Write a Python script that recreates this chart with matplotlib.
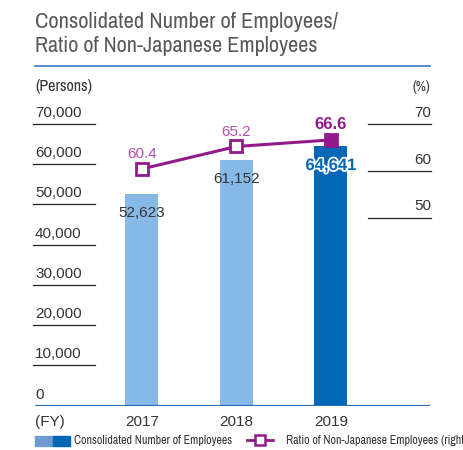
import matplotlib.pyplot as plt
import matplotlib.transforms as mtransforms
import matplotlib.patheffects as pe
from matplotlib import font_manager as fm
from matplotlib.lines import Line2D
from matplotlib.patches import Rectangle

# Data
years = ["2017", "2018", "2019"]
employees = [52623, 61152, 64641]
ratio = [60.4, 65.2, 66.6]
left_ticks = [10000, 20000, 30000, 40000, 50000, 60000, 70000]
right_ticks = [50, 60, 70]

light_blue = "#86b9e5"
dark_blue = "#0068b6"
purple = "#931a8b"
label_purple = "#b54db0"
grey_text = "#333333"
title_grey = "#58595b"

# look for a narrow / condensed sans font, otherwise use Roboto
narrow_file = None
for f in sorted(fm.fontManager.ttflist, key=lambda f: f.name):
    cond = ("Narrow" in f.name or "Condensed" in f.name
            or f.stretch in ("condensed", "semi-condensed", "extra-condensed"))
    if cond and f.style == "normal" and f.weight in (400, "normal", "regular"):
        narrow_file = f.fname
        break


def narrow(size):
    if narrow_file:
        return fm.FontProperties(fname=narrow_file, size=size)
    return fm.FontProperties(family="Roboto", size=size)


W, H = 464, 450
fig = plt.figure(figsize=(W / 100, H / 100), dpi=100)
renderer = fig.canvas.get_renderer()


def px(x, y):
    # pixel coords (from top-left) -> figure fraction
    return x / W, 1 - y / H


def fit_text(x, y, s, width, size, **kw):
    # place text and shrink/grow it to the width seen in the reference
    t = fig.text(*px(x, y), s, fontproperties=narrow(size), **kw)
    w = t.get_window_extent(renderer).width
    t.set_fontsize(size * width / w)
    return t


# axes area in pixels
x0, x1 = 35, 430
y_base, y_top = 405.7, 100
ax = fig.add_axes([x0 / W, 1 - y_base / H, (x1 - x0) / W, (y_base - y_top) / H])
ax2 = ax.twinx()

ax.set_ylim(0, (y_base - y_top) / 40.24 * 10000)
ax2.set_ylim(70 - (y_base - 124) / 4.685, 70 + (124 - y_top) / 4.685)
ax.set_xlim(-1.128, 3.048)

for a in (ax, ax2):
    a.set_xticks([])
    a.set_yticks([])
    for s in a.spines.values():
        s.set_visible(False)
    a.patch.set_alpha(0)

xs = list(range(len(years)))
colors = [light_blue, light_blue, dark_blue]
ax.bar(xs, employees, width=0.35, color=colors, zorder=2)

# baseline
ax.axhline(0, color="#2a6fb6", lw=1.6, zorder=3)

# left tick lines and labels
trans = mtransforms.blended_transform_factory(ax.transAxes, ax.transData)
for v in left_ticks:
    ax.plot([-0.005, 0.152], [v, v], transform=trans, color="#222222", lw=0.9,
            clip_on=False)
    ax.text(0.0, v + 1000, f"{v:,}", transform=trans, ha="left", va="bottom",
            fontsize=11, color=grey_text, family="Liberation Sans")
ax.text(0.0, 1000, "0", transform=trans, ha="left", va="bottom",
        fontsize=11, color=grey_text, family="Liberation Sans")

trans2 = mtransforms.blended_transform_factory(ax2.transAxes, ax2.transData)
for v in right_ticks:
    ax2.plot([0.843, 1.003], [v, v], transform=trans2, color="#222222", lw=0.9,
             clip_on=False)
    ax2.text(1.003, v + 0.9, str(v), transform=trans2, ha="right", va="bottom",
             fontsize=11, color=grey_text, family="Liberation Sans")

# ratio line
ax2.plot(xs, ratio, color=purple, lw=2.2, zorder=4)
ax2.plot(xs[:2], ratio[:2], ls="none", marker="s", ms=8, mfc="white",
         mec=purple, mew=2, zorder=5)
ax2.plot(xs[2:], ratio[2:], ls="none", marker="s", ms=8, mfc=purple,
         mec=purple, mew=2, zorder=5)

# data labels
for i, v in enumerate(ratio[:2]):
    ax2.text(i, v + 1.6, f"{v}", ha="center", va="bottom", fontsize=11,
             color=label_purple, family="Liberation Sans")
ax2.text(2, ratio[2] + 1.6, f"{ratio[2]}", ha="center", va="bottom",
         fontsize=12, color=purple, fontweight="bold", family="Liberation Sans")

ax.text(0, employees[0] - 3100, f"{employees[0]:,}", ha="center", va="top",
        fontsize=11, color=grey_text, family="Liberation Sans", zorder=6)
ax.text(1, employees[1] - 3100, f"{employees[1]:,}", ha="center", va="top",
        fontsize=11, color=grey_text, family="Liberation Sans", zorder=6)
ax.text(2, employees[2] - 3100, f"{employees[2]:,}", ha="center", va="top",
        fontsize=12, color=dark_blue, fontweight="bold", family="Liberation Sans",
        zorder=6, path_effects=[pe.withStroke(linewidth=2.5, foreground="white")])

# x labels
for i, y in enumerate(years):
    ax.text(i, -2400, y, ha="center", va="top", fontsize=11, color=grey_text,
            family="Liberation Sans")
ax.text(0.0, -2400, "(FY)", transform=trans, ha="left", va="top", fontsize=11,
        color=grey_text, family="Liberation Sans")

# title
fit_text(35, 22, "Consolidated Number of Employees/", 302, 14, ha="left",
         va="center", color=title_grey)
fit_text(35, 46, "Ratio of Non-Japanese Employees", 282, 14, ha="left",
         va="center", color=title_grey)
fig.add_artist(Line2D([35 / W, 430 / W], [1 - 65.5 / H] * 2, color="#4a86c5", lw=1.3))

fit_text(35, 87, "(Persons)", 57, 9.5, ha="left", va="center", color=grey_text)
t = fig.text(*px(430, 87), "(%)", ha="right", va="center", color=grey_text,
             fontproperties=narrow(9.5))

# legend
fig.add_artist(Rectangle(px(35, 446), 18 / W, 10 / H, color="#6f9ad2"))
fig.add_artist(Rectangle(px(53, 446), 17 / W, 10 / H, color=dark_blue))
leg1 = fit_text(74, 441, "Consolidated Number of Employees", 158, 8.2,
                ha="left", va="center", color=grey_text)
fig.add_artist(Line2D([247 / W, 273 / W], [1 - 440 / H] * 2, color=purple, lw=2))
fig.add_artist(Line2D([260 / W], [1 - 440 / H], ls="none", marker="s", ms=7,
                      mfc="white", mec=purple, mew=1.8))
fig.text(*px(286, 441), "Ratio of Non-Japanese Employees (right)", ha="left",
         va="center", color=grey_text, fontproperties=narrow(leg1.get_fontsize()))
t.set_fontsize(leg1.get_fontsize() * 1.15)

fig.savefig("out.png", dpi=100)
